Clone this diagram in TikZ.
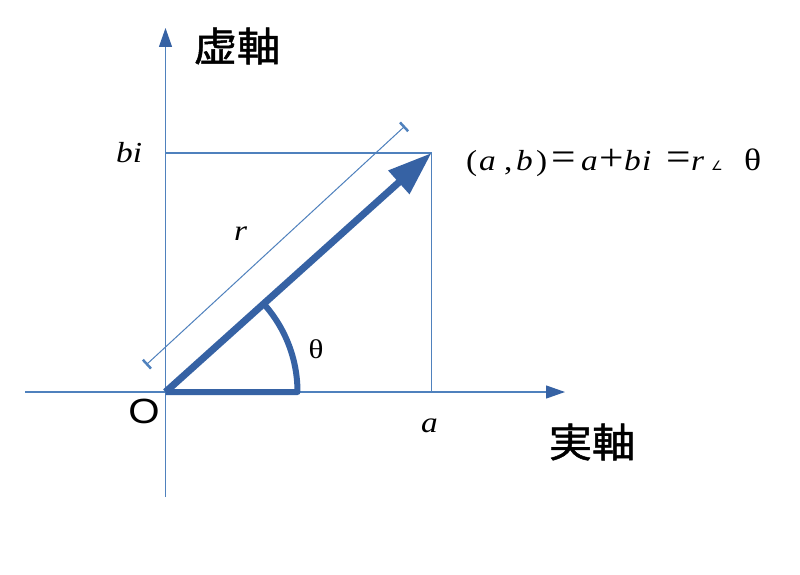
\documentclass[tikz,border=0pt]{standalone}
\usepackage{fontspec}
\usepackage{graphicx}
\setmainfont{Liberation Serif}
\newfontfamily\cjkf[FakeStretch=1.08,FakeBold=1.2]{Noto Sans CJK JP}
\newfontfamily\osans[FakeStretch=1.15]{Liberation Sans}
\newfontfamily\eqf[FakeStretch=1.15]{Liberation Serif}
\newfontfamily\angf{DejaVu Sans}
\usetikzlibrary{arrows.meta}
\definecolor{thinblue}{RGB}{79,129,189}
\definecolor{thickblue}{RGB}{54,98,164}
\newcommand\G[2]{\makebox[#1pt][l]{#2}}
\newcommand\Eq{\scalebox{1.3}[1.4]{=}}
\newcommand\Pl{\scalebox{1.3}[1.3]{+}}
\tikzset{
  axis/.style={draw=thinblue, line width=1.2pt, -{Triangle[length=19pt,width=13pt,color=thickblue,fill=thickblue]}},
  guide/.style={draw=thinblue, line width=1.2pt},
  dimline/.style={draw=thinblue, line width=1pt, {Bar[width=12pt,line width=2.5pt]}-{Bar[width=12pt,line width=2.5pt]}},
  vec/.style={draw=thickblue, line width=7pt, -{Triangle[length=44pt,width=30pt]}},
  anglemark/.style={draw=thickblue, line width=6pt, line join=round},
  kanji/.style={font=\cjkf\fontsize{40}{40}\selectfont, inner sep=0pt},
  eqtext/.style={font=\eqf\fontsize{29}{29}\selectfont, inner sep=0pt},
}
\begin{document}
\begin{tikzpicture}[x=1pt,y=-1pt]
\useasboundingbox (0,0) rectangle (800,575);
\fill[white] (0,0) rectangle (800,575);
\coordinate (O) at (165.5,392);
\coordinate (P) at (431.5,153);
\coordinate (ybot) at (165.5,497);
\coordinate (ytop) at (165.5,28);
\coordinate (xl) at (25,392);
\coordinate (xr) at (565,392);
\coordinate (pb) at (165.5,153);
\coordinate (pa) at (431.5,392);
\coordinate (d1) at (146,365);
\coordinate (d2) at (405,126);
% axes
\draw[axis] (ybot) -- (ytop);
\draw[axis] (xl) -- (xr);
% guide lines
\draw[guide] (pb) -- (P) -- (pa);
% dimension line
\draw[dimline] (d1) -- (d2);
% angle sector
\draw[anglemark] (O) -- ++(132,0) arc[start angle=0, end angle=-41.9, radius=132];
% vector
\draw[vec] (O) -- (P);
% labels
\node[kanji] (im) at (237,46) {虚軸};
\node[kanji] (re) at (592,442) {実軸};
\node[font=\osans\fontsize{35}{35}\selectfont, inner sep=0pt] (Olab) at (144,411) {O};
\node[eqtext, anchor=base west] (bilab) at (116,162) {\itshape bi};
\node[eqtext, anchor=base west] (rlab) at (234,240) {\itshape r};
\node[eqtext, anchor=base west] (alab) at (421,432) {\itshape a};
\node[font=\eqf\fontsize{27}{27}\selectfont, inner sep=0pt] (thlab) at (316,349) {θ};
\node[eqtext, anchor=base west] (eq) at (466,170) {\G{13}{(}\G{25}{\itshape a}\G{12}{,}\G{20}{\itshape b}\G{15}{)}\G{30}{\Eq}\G{18}{\itshape a}\G{25}{\Pl}\G{18}{\itshape b}\G{24}{\itshape i}\G{25}{\Eq}\G{20}{\itshape r}\G{33}{\angf\fontsize{13}{13}\selectfont ∠}{\fontsize{31}{31}\selectfont θ}};
\end{tikzpicture}
\end{document}
